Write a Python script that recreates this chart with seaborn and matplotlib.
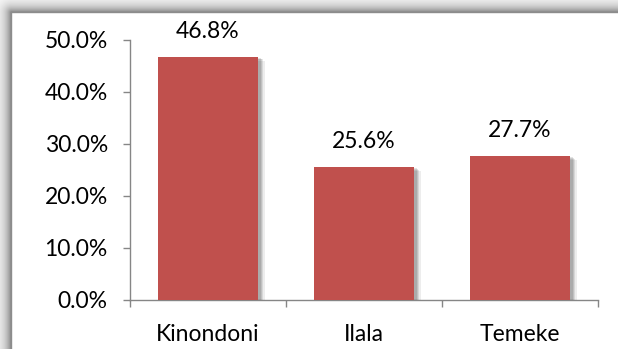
import numpy as np
import pandas as pd
import matplotlib
matplotlib.use("Agg")
import matplotlib.pyplot as plt
import matplotlib.patheffects as pe
from matplotlib.ticker import PercentFormatter, MultipleLocator
import seaborn as sns

districts = ["Kinondoni", "Ilala", "Temeke"]
shares = [46.8, 25.6, 27.7]
bar_color = "#C0504D"

df = pd.DataFrame({"district": districts, "share": shares})

sns.set_theme(style="white")
plt.rcParams["font.family"] = ["Lato", "DejaVu Sans"]

W, H = 618, 349
fig = plt.figure(figsize=(W / 100, H / 100), dpi=100)

# Soft drop shadow above and left of the chart frame
bg = fig.add_axes([0, 0, 1, 1], zorder=-5)
yy, xx = np.mgrid[0:H, 0:W]
fx, fy = 11.0, 12.0
dy = np.clip(fy - yy, 0, None)
dx = np.clip(fx - xx, 0, None)
d = np.hypot(dx, dy)
shade = np.where(d > 0, np.exp(-d / 7.0), 0.0) * 0.5
shade[(yy >= fy) & (xx >= fx)] = 0
img = np.dstack([1 - shade] * 3)
bg.imshow(img, extent=[0, W, H, 0], aspect="auto", interpolation="bilinear")
bg.set_xlim(0, W)
bg.set_ylim(H, 0)
bg.plot([fx, fx, W + 5], [H + 5, fy, fy], color="#8c8c8c", lw=1.0)
bg.axis("off")

ax = fig.add_axes([130 / W, 1 - 300 / H, (598 - 130) / W, (300 - 40) / H])
sns.barplot(data=df, x="district", y="share", color=bar_color, saturation=1,
            width=0.64, ax=ax, zorder=3)

shadow = [
    pe.SimplePatchShadow(offset=(5, -3), shadow_rgbFace="k", alpha=0.08),
    pe.SimplePatchShadow(offset=(4, -2), shadow_rgbFace="k", alpha=0.10),
    pe.SimplePatchShadow(offset=(3, -1.5), shadow_rgbFace="k", alpha=0.12),
    pe.SimplePatchShadow(offset=(2, -1), shadow_rgbFace="k", alpha=0.12),
    pe.Normal(),
]
for bar in ax.patches:
    bar.set_edgecolor("none")
    bar.set_path_effects(shadow)

fs = 16.5
for i, v in enumerate(shares):
    ax.text(i, v + 2.8, f"{v:.1f}%", ha="center", va="bottom", fontsize=fs,
            color="black")

ax.set_ylim(0, 50)
ax.set_xlim(-0.5, 2.5)
ax.yaxis.set_major_locator(MultipleLocator(10))
ax.yaxis.set_major_formatter(PercentFormatter(decimals=1))
ax.set_xlabel("")
ax.set_ylabel("")
ax.set_xticks([-0.5, 0.5, 1.5, 2.5], minor=False)
ax.set_xticklabels([])
ax.set_xticks([0, 1, 2], minor=True)
ax.set_xticklabels(districts, minor=True)
ax.tick_params(axis="x", which="minor", length=0, pad=17, labelsize=fs,
               labelcolor="black")
ax.tick_params(axis="x", which="major", length=5, width=1, color="#868686",
               direction="out", bottom=True)
ax.tick_params(axis="y", length=5, width=1, color="#868686", direction="out",
               left=True, labelsize=fs, labelcolor="black", pad=11)
for side in ["top", "right"]:
    ax.spines[side].set_visible(False)
for side in ["left", "bottom"]:
    ax.spines[side].set_color("#868686")
    ax.spines[side].set_linewidth(1)
ax.patch.set_alpha(0)

fig.savefig("out.png", dpi=100)
